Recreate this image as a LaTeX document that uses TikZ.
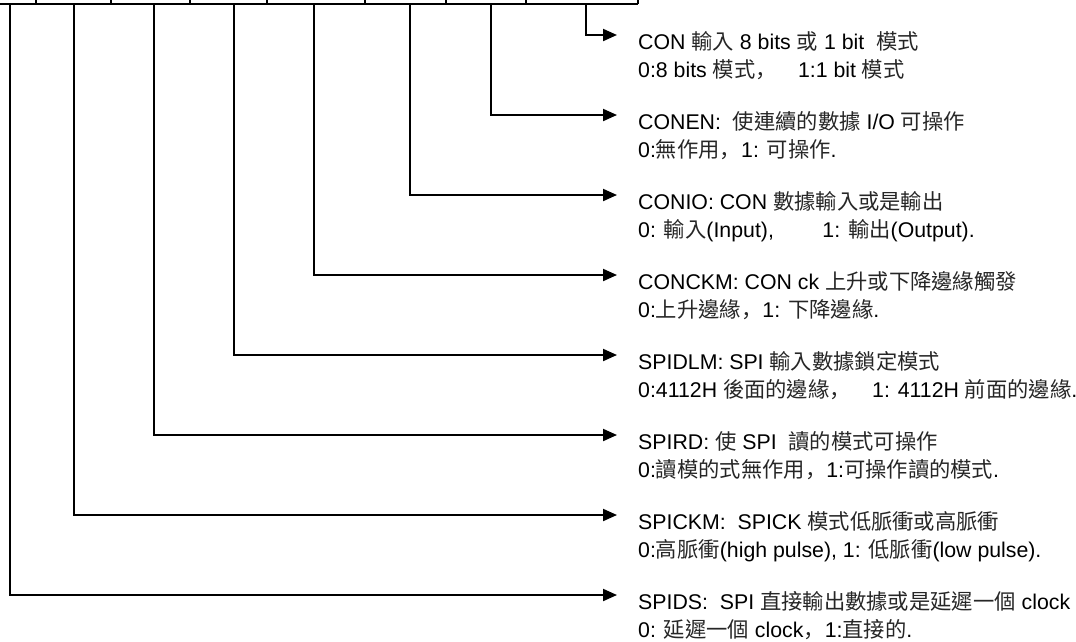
\documentclass[tikz,border=0pt]{standalone}
\usepackage{fontspec}
\setmainfont{Liberation Sans}
\newfontfamily\cjkfont{Noto Sans CJK TC}
\newfontfamily\cjkpunct{Noto Sans CJK JP}
\newcommand{\zh}[1]{{\cjkfont\color{black!85}#1}}
\newcommand{\zhc}{{\cjkpunct\color{black!85}，}}
\usetikzlibrary{arrows.meta}

\begin{document}
\begin{tikzpicture}[x=1pt,y=-1pt]
\tikzstyle{regline}=[line width=2.4pt]
\tikzstyle{bitline}=[line width=2pt, -{Triangle[length=14pt,width=12pt]}]
\tikzstyle{desc}=[anchor=north west, inner sep=0pt, align=left, font=\fontsize{21.3}{28}\selectfont]
\useasboundingbox (0,0) rectangle (1076,641);
% register row, cut off at the top
\draw[regline] (0,4) -- (638,4);
\draw[regline] (36,0) -- (36,4) (111,0) -- (111,4) (190,0) -- (190,4) (267,0) -- (267,4)
  (365,0) -- (365,4) (446,0) -- (446,4) (526,0) -- (526,4) (638,0) -- (638,4);
\coordinate (bCON) at (586,4);
\coordinate (bCONEN) at (491,4);
\coordinate (bCONIO) at (410,4);
\coordinate (bCONCKM) at (314,4);
\coordinate (bSPIDLM) at (234,4);
\coordinate (bSPIRD) at (154,4);
\coordinate (bSPICKM) at (74,4);
\coordinate (bSPIDS) at (10,4);
% descriptions
\node[desc] (con) at (638,31) {CON \zh{輸入} 8 bits \zh{或} 1 bit \ \zh{模式}\\0:8 bits \zh{模式}\zhc\quad 1:1 bit \zh{模式}};
\node[desc] (conen) at (638,111) {CONEN: \ \zh{使連續的數據} I/O \zh{可操作}\\0:\zh{無作用}\zhc 1: \zh{可操作}.};
\node[desc] (conio) at (638,191) {CONIO: CON \zh{數據輸入或是輸出}\\0: \zh{輸入}(Input), \qquad 1: \zh{輸出}(Output).};
\node[desc] (conckm) at (638,271) {CONCKM: CON ck \zh{上升或下降邊緣觸發}\\0:\zh{上升邊緣}\zhc 1: \zh{下降邊緣}.};
\node[desc] (spidlm) at (638,351) {SPIDLM: SPI \zh{輸入數據鎖定模式}\\0:4112H \zh{後面的邊緣}\zhc\quad 1: 4112H \zh{前面的邊緣}.};
\node[desc] (spird) at (638,431) {SPIRD: \zh{使} SPI \ \zh{讀的模式可操作}\\0:\zh{讀模的式無作用}\zhc 1:\zh{可操作讀的模式}.};
\node[desc] (spickm) at (638,511) {SPICKM: \ SPICK \zh{模式低脈衝或高脈衝}\\0:\zh{高脈衝}(high pulse), 1: \zh{低脈衝}(low pulse).};
\node[desc] (spids) at (638,591) {SPIDS: \ SPI \zh{直接輸出數據或是延遲一個} clock\\0: \zh{延遲一個} clock\zhc 1:\zh{直接的}.};
% bit connectors
\draw[bitline] (bCON) |- ([xshift=-21pt,yshift=-4pt]con.north west);
\draw[bitline] (bCONEN) |- ([xshift=-21pt,yshift=-4pt]conen.north west);
\draw[bitline] (bCONIO) |- ([xshift=-21pt,yshift=-4pt]conio.north west);
\draw[bitline] (bCONCKM) |- ([xshift=-21pt,yshift=-4pt]conckm.north west);
\draw[bitline] (bSPIDLM) |- ([xshift=-21pt,yshift=-4pt]spidlm.north west);
\draw[bitline] (bSPIRD) |- ([xshift=-21pt,yshift=-4pt]spird.north west);
\draw[bitline] (bSPICKM) |- ([xshift=-21pt,yshift=-4pt]spickm.north west);
\draw[bitline] (bSPIDS) |- ([xshift=-21pt,yshift=-4pt]spids.north west);
\end{tikzpicture}
\end{document}
